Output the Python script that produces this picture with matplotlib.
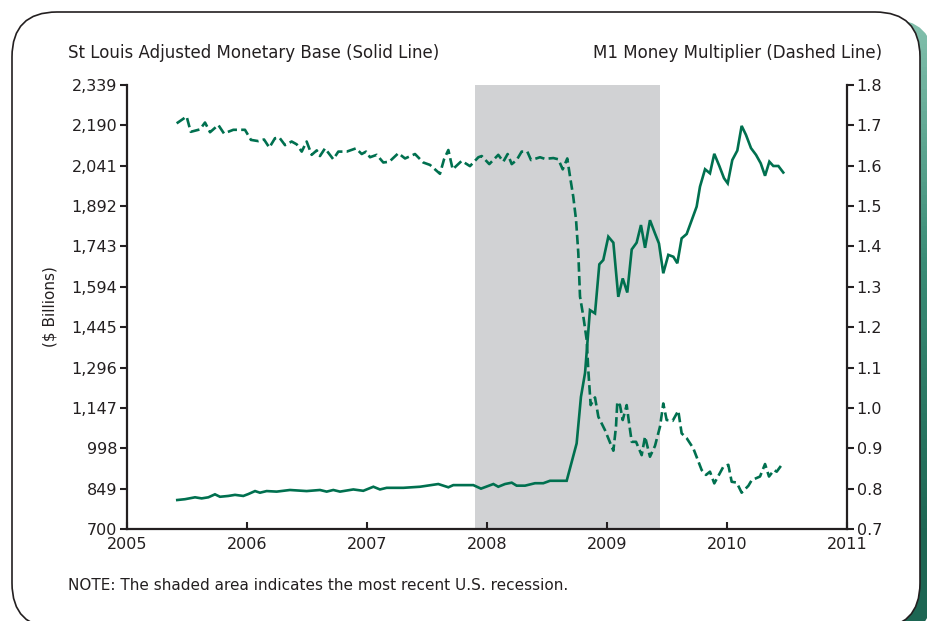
import matplotlib
matplotlib.use("Agg")
import matplotlib.pyplot as plt
import numpy as np
from matplotlib.patches import FancyBboxPatch
from matplotlib.colors import LinearSegmentedColormap
from matplotlib.ticker import FuncFormatter

# St Louis adjusted monetary base ($ billions)
base_dates = [2005.419, 2005.483, 2005.567, 2005.622, 2005.678, 2005.733, 2005.775,
              2005.844, 2005.900, 2005.969, 2006.011, 2006.067, 2006.108, 2006.164,
              2006.247, 2006.358, 2006.497, 2006.608, 2006.664, 2006.719, 2006.775,
              2006.886, 2006.969, 2007.053, 2007.108, 2007.164, 2007.303, 2007.442,
              2007.594, 2007.678, 2007.719, 2007.886, 2007.950, 2008.053, 2008.094,
              2008.150, 2008.206, 2008.247, 2008.317, 2008.400, 2008.469, 2008.525,
              2008.664, 2008.747, 2008.783, 2008.817, 2008.858, 2008.900, 2008.936,
              2008.969, 2009.011, 2009.053, 2009.094, 2009.131, 2009.169, 2009.206,
              2009.247, 2009.283, 2009.317, 2009.358, 2009.400, 2009.433, 2009.469,
              2009.511, 2009.553, 2009.586, 2009.622, 2009.664, 2009.706, 2009.747,
              2009.775, 2009.817, 2009.858, 2009.894, 2009.936, 2009.975, 2010.006,
              2010.044, 2010.086, 2010.122, 2010.158, 2010.200, 2010.242, 2010.281,
              2010.317, 2010.353, 2010.386, 2010.428, 2010.469]
base_values = [807, 810, 817, 813, 817, 828, 819,
               822, 826, 822, 829, 840, 834, 840,
               838, 844, 840, 844, 838, 844, 838,
               846, 841, 856, 846, 852, 852, 856,
               866, 854, 862, 862, 849, 866, 856,
               866, 871, 860, 860, 869, 869, 878,
               878, 1016, 1188, 1276, 1508, 1496, 1677,
               1693, 1779, 1757, 1557, 1625, 1573, 1732,
               1757, 1822, 1738, 1840, 1791, 1754, 1644,
               1712, 1705, 1681, 1773, 1789, 1840, 1890,
               1964, 2028, 2013, 2085, 2040, 1995, 1976,
               2062, 2097, 2188, 2155, 2106, 2081, 2050,
               2004, 2056, 2040, 2040, 2016]

# M1 money multiplier
mult_dates = [2005.414, 2005.497, 2005.531, 2005.608, 2005.650, 2005.692, 2005.761,
              2005.808, 2005.886, 2005.983, 2006.033, 2006.094, 2006.142, 2006.186,
              2006.233, 2006.269, 2006.317, 2006.372, 2006.414, 2006.456, 2006.497,
              2006.539, 2006.581, 2006.608, 2006.650, 2006.719, 2006.761, 2006.831,
              2006.908, 2006.956, 2006.992, 2007.025, 2007.081, 2007.136, 2007.186,
              2007.261, 2007.317, 2007.400, 2007.469, 2007.525, 2007.608, 2007.642,
              2007.678, 2007.714, 2007.789, 2007.858, 2007.928, 2007.956, 2008.019,
              2008.094, 2008.136, 2008.172, 2008.206, 2008.247, 2008.289, 2008.336,
              2008.367, 2008.442, 2008.483, 2008.553, 2008.594, 2008.631, 2008.669,
              2008.692, 2008.719, 2008.742, 2008.761, 2008.775, 2008.803, 2008.831,
              2008.844, 2008.864, 2008.900, 2008.928, 2008.983, 2009.053, 2009.075,
              2009.086, 2009.108, 2009.131, 2009.164, 2009.186, 2009.206, 2009.242,
              2009.289, 2009.317, 2009.358, 2009.400, 2009.442, 2009.469, 2009.497,
              2009.547, 2009.594, 2009.622, 2009.664, 2009.719, 2009.789, 2009.825,
              2009.858, 2009.894, 2009.969, 2010.011, 2010.039, 2010.081, 2010.122,
              2010.178, 2010.206, 2010.275, 2010.317, 2010.350, 2010.392, 2010.414,
              2010.456]
mult_values = [1.705, 1.722, 1.684, 1.690, 1.707, 1.683, 1.701,
               1.680, 1.689, 1.689, 1.664, 1.661, 1.665, 1.645,
               1.668, 1.670, 1.651, 1.660, 1.653, 1.635, 1.660,
               1.627, 1.638, 1.624, 1.643, 1.616, 1.635, 1.635,
               1.643, 1.629, 1.635, 1.621, 1.627, 1.608, 1.610,
               1.631, 1.618, 1.629, 1.608, 1.602, 1.580, 1.616,
               1.639, 1.591, 1.612, 1.599, 1.621, 1.624, 1.604,
               1.627, 1.610, 1.629, 1.604, 1.614, 1.635, 1.635,
               1.614, 1.621, 1.617, 1.619, 1.616, 1.591, 1.618,
               1.573, 1.523, 1.466, 1.383, 1.276, 1.226, 1.168,
               1.094, 1.007, 1.026, 0.978, 0.945, 0.894, 0.954,
               1.015, 1.007, 0.970, 1.007, 0.958, 0.916, 0.916,
               0.883, 0.929, 0.879, 0.906, 0.954, 1.011, 0.970,
               0.968, 0.993, 0.937, 0.925, 0.900, 0.846, 0.834,
               0.842, 0.813, 0.854, 0.859, 0.817, 0.815, 0.790,
               0.807, 0.821, 0.830, 0.861, 0.830, 0.846, 0.842,
               0.859]

recession = (2007.90, 2009.44)
left_ticks = [700, 849, 998, 1147, 1296, 1445, 1594, 1743, 1892, 2041, 2190, 2339]
right_ticks = [0.7, 0.8, 0.9, 1.0, 1.1, 1.2, 1.3, 1.4, 1.5, 1.6, 1.7, 1.8]
year_ticks = [2005, 2006, 2007, 2008, 2009, 2010, 2011]

GREEN = "#00704f"
INK = "#231f20"
plt.rcParams["font.family"] = ["DejaVu Sans"]

W, H = 927, 621
fig = plt.figure(figsize=(W / 100, H / 100), dpi=100)

# background: rounded frame with a teal drop shadow
bg = fig.add_axes([0, 0, 1, 1], zorder=0)
bg.set_xlim(0, W)
bg.set_ylim(H, 0)
bg.axis("off")
shadow = FancyBboxPatch((19, 19), 915, 616, boxstyle="round,pad=0,rounding_size=45",
                        facecolor="none", edgecolor="none")
bg.add_patch(shadow)
teal = LinearSegmentedColormap.from_list("teal", ["#eef7f4", "#8cc7b4", "#3a8c76", "#1d6653"])
gx, gy = np.meshgrid(np.linspace(0, 1, 200), np.linspace(0, 1, 140))
grad = np.clip(0.75 * gy + 0.45 * gx - 0.1, 0, 1)
img = bg.imshow(grad, extent=(0, W, H, 0), cmap=teal, vmin=0, vmax=1,
                aspect="auto", zorder=1)
img.set_clip_path(shadow)
frame = FancyBboxPatch((12, 12), 908, 616, boxstyle="round,pad=0,rounding_size=45",
                       facecolor="white", edgecolor=INK, linewidth=1.2, zorder=2)
bg.add_patch(frame)

ax = fig.add_axes([127 / W, 1 - 529 / H, 720 / W, 444 / H], zorder=1)
ax.patch.set_visible(False)
ax2 = ax.twinx()

ax.axvspan(recession[0], recession[1], color="#d1d2d4", lw=0, zorder=0)
ax.plot(base_dates, base_values, color=GREEN, lw=1.9, solid_joinstyle="miter")
ax2.plot(mult_dates, mult_values, color=GREEN, lw=1.9, linestyle=(0, (3.6, 1.6)))

ax.set_xlim(2005, 2011)
ax.set_ylim(700, 2339)
ax2.set_ylim(0.7, 1.8)
ax.set_xticks(year_ticks)
ax.set_yticks(left_ticks)
ax2.set_yticks(right_ticks)
ax.yaxis.set_major_formatter(FuncFormatter(lambda v, p: f"{int(v):,}"))
ax2.yaxis.set_major_formatter(FuncFormatter(lambda v, p: f"{v:.1f}"))

for a in (ax, ax2):
    for s in a.spines.values():
        s.set_color(INK)
        s.set_linewidth(1.6)
    a.spines["top"].set_visible(False)
ax.spines["right"].set_visible(False)
ax2.spines["left"].set_visible(False)
ax2.spines["bottom"].set_visible(False)

ax.tick_params(axis="y", direction="out", length=5, width=1.5, color=INK,
               labelsize=11.5, labelcolor=INK, pad=2)
ax.tick_params(axis="x", direction="in", length=5, width=1.5, color=INK,
               labelsize=11.5, labelcolor=INK, pad=6)
ax2.tick_params(axis="y", direction="out", length=5, width=1.5, color=INK,
                labelsize=11.5, labelcolor=INK, pad=2)

ax.set_ylabel("($ Billions)", fontsize=11, color=INK, labelpad=10)

fig.text(68 / W, 1 - 53 / H, "St Louis Adjusted Monetary Base (Solid Line)",
         fontsize=12, color=INK, ha="left", va="center")
fig.text(882 / W, 1 - 53 / H, "M1 Money Multiplier (Dashed Line)",
         fontsize=12, color=INK, ha="right", va="center")
fig.text(68 / W, 1 - 585 / H, "NOTE: The shaded area indicates the most recent U.S. recession.",
         fontsize=11, color=INK, ha="left", va="center")

fig.savefig("out.png", dpi=100)
